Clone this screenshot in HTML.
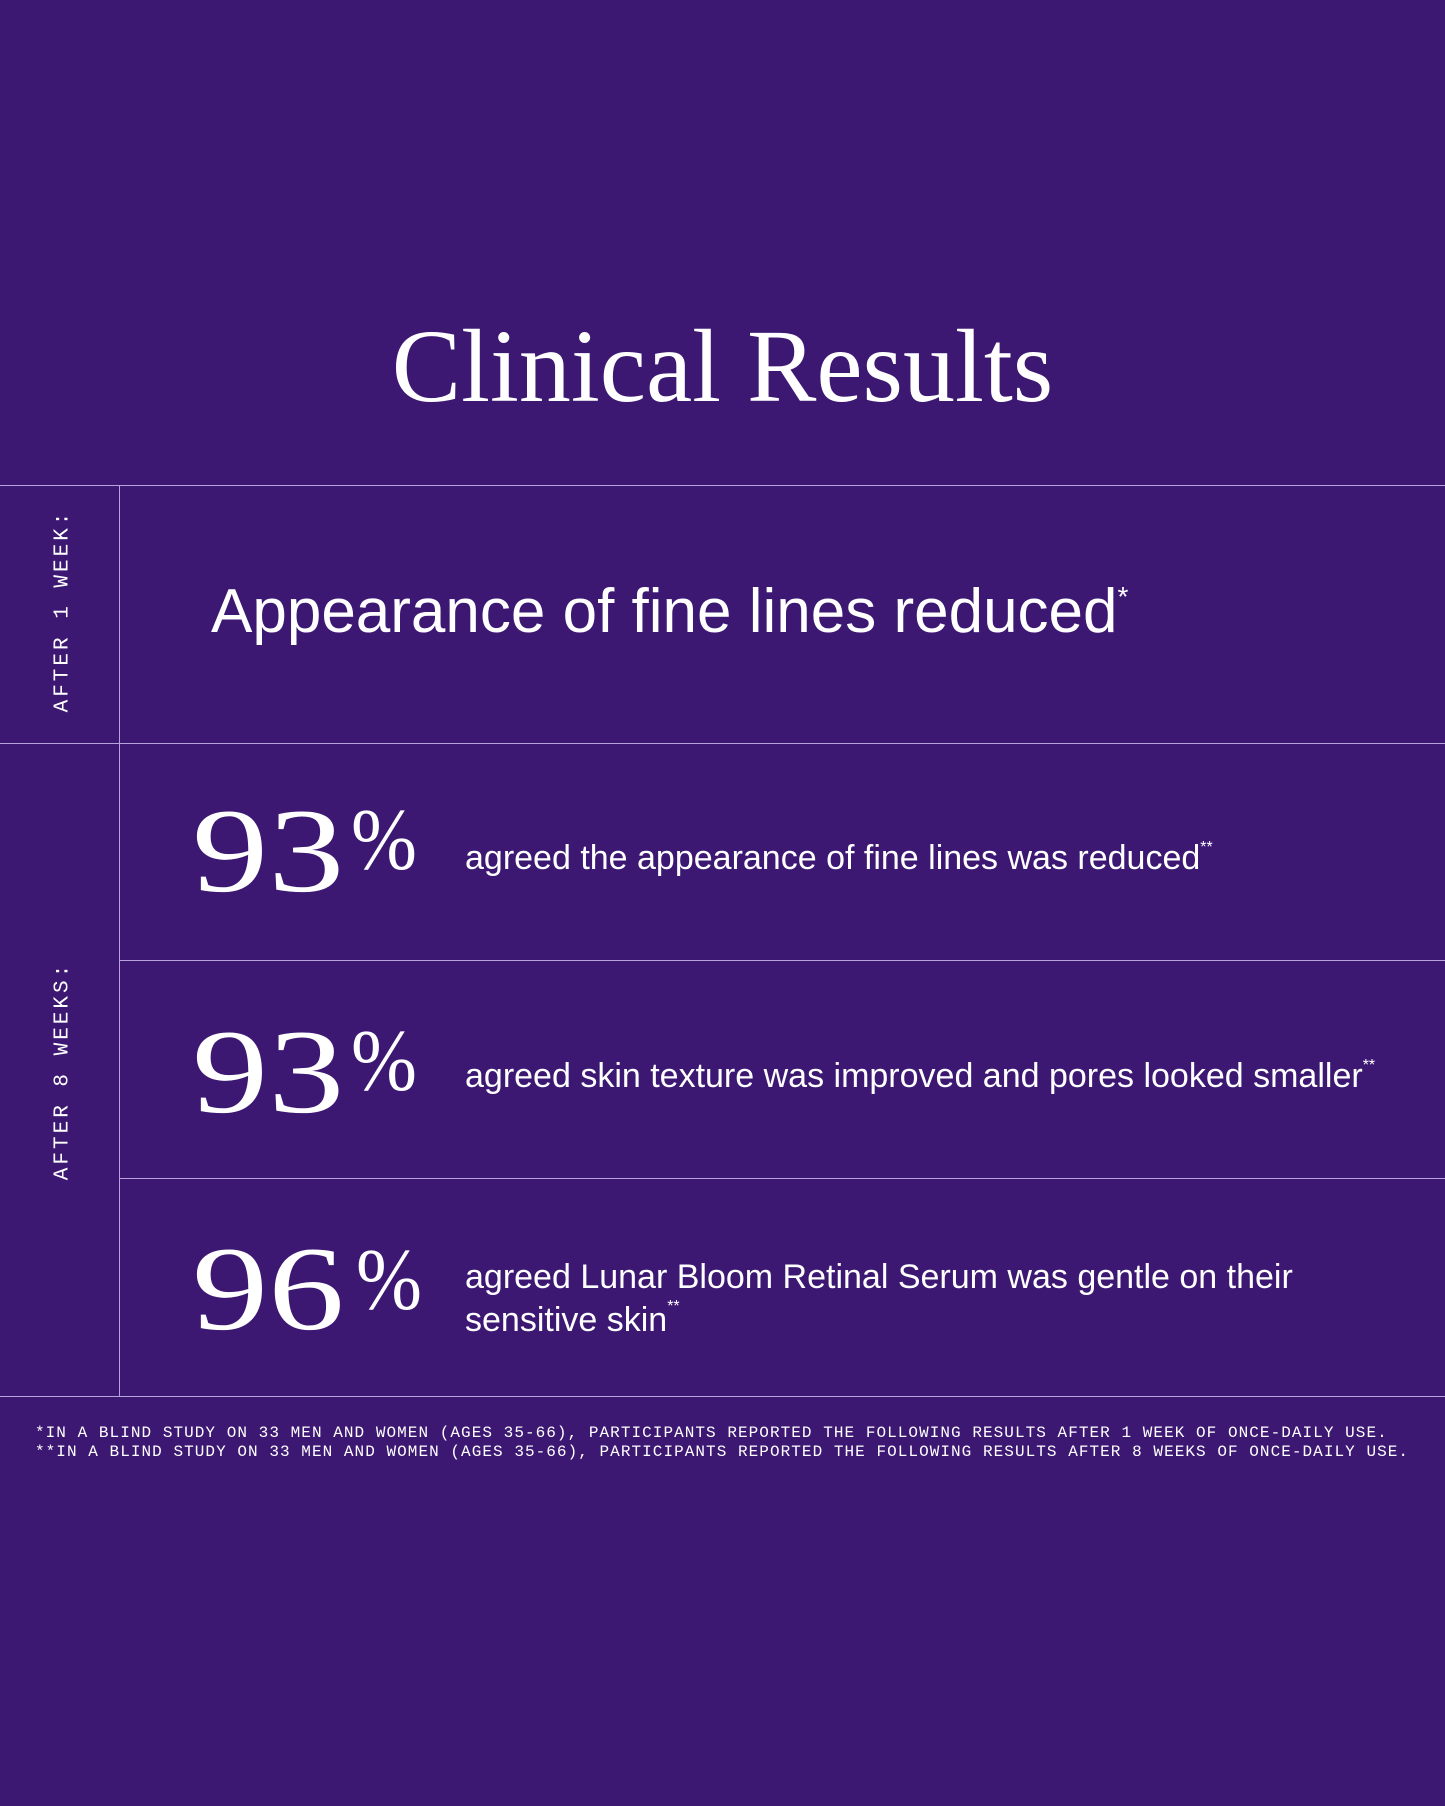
<!DOCTYPE html>
<html><head><meta charset="utf-8"><style>
body{margin:0;width:1445px;height:1806px;background:#3c1873;position:relative;overflow:hidden;color:#fff;font-family:"Liberation Sans",sans-serif}
.a{position:absolute;white-space:nowrap}
.h{position:absolute;left:0;width:1445px;height:1px;background:#b7a3de}
.v{position:absolute;left:119px;top:485px;width:1px;height:911px;background:#b7a3de}
.serif{font-family:"Liberation Serif",serif}
.big{font-family:"Liberation Serif",serif;font-size:120px;line-height:1;transform:scaleX(1.27);transform-origin:left top}
.pct{font-family:"Liberation Serif",serif;font-size:88px;line-height:1;transform:scaleX(0.9);transform-origin:left top}
.t{font-size:34px}
.vert{position:absolute;font-family:"Liberation Mono",monospace;font-size:21px;letter-spacing:3px;transform:translate(-50%,-50%) rotate(-90deg);white-space:nowrap}
.fn{font-family:"Liberation Mono",monospace;font-size:16px;letter-spacing:1.05px}
</style></head><body>
<div class="a serif" style="left:0;width:1445px;text-align:center;top:315px;font-size:104px;line-height:1">Clinical Results</div>
<div class="h" style="top:485px"></div>
<div class="h" style="top:743px"></div>
<div class="h" style="top:960px;left:120px"></div>
<div class="h" style="top:1178px;left:120px"></div>
<div class="h" style="top:1396px"></div>
<div class="v"></div>
<div class="vert" style="left:63px;top:611px">AFTER 1 WEEK:</div>
<div class="vert" style="left:63px;top:1071px">AFTER 8 WEEKS:</div>
<div class="a" style="left:211px;top:581px;font-size:62px;line-height:1">Appearance of fine lines reduced<sup style="font-size:28px;vertical-align:top;position:relative;top:2px">*</sup></div>
<div class="a big" style="left:192px;top:791px">93</div><div class="a pct" style="left:351px;top:797px">%</div>
<div class="a t" style="left:465px;top:839px">agreed the appearance of fine lines was reduced<sup style="font-size:16px;vertical-align:top">**</sup></div>
<div class="a big" style="left:192px;top:1012px">93</div><div class="a pct" style="left:351px;top:1018px">%</div>
<div class="a t" style="left:465px;top:1057px">agreed skin texture was improved and pores looked smaller<sup style="font-size:16px;vertical-align:top">**</sup></div>
<div class="a big" style="left:192px;top:1229px">96</div><div class="a pct" style="left:356px;top:1237px">%</div>
<div class="a t" style="left:465px;top:1256px;line-height:43px">agreed Lunar Bloom Retinal Serum was gentle on their<br>sensitive skin<sup style="font-size:16px;vertical-align:top;line-height:1">**</sup></div>
<div class="a fn" style="left:35px;top:1424px">*IN A BLIND STUDY ON 33 MEN AND WOMEN (AGES 35-66), PARTICIPANTS REPORTED THE FOLLOWING RESULTS AFTER 1 WEEK OF ONCE-DAILY USE.</div>
<div class="a fn" style="left:35px;top:1443px">**IN A BLIND STUDY ON 33 MEN AND WOMEN (AGES 35-66), PARTICIPANTS REPORTED THE FOLLOWING RESULTS AFTER 8 WEEKS OF ONCE-DAILY USE.</div>
</body></html>
